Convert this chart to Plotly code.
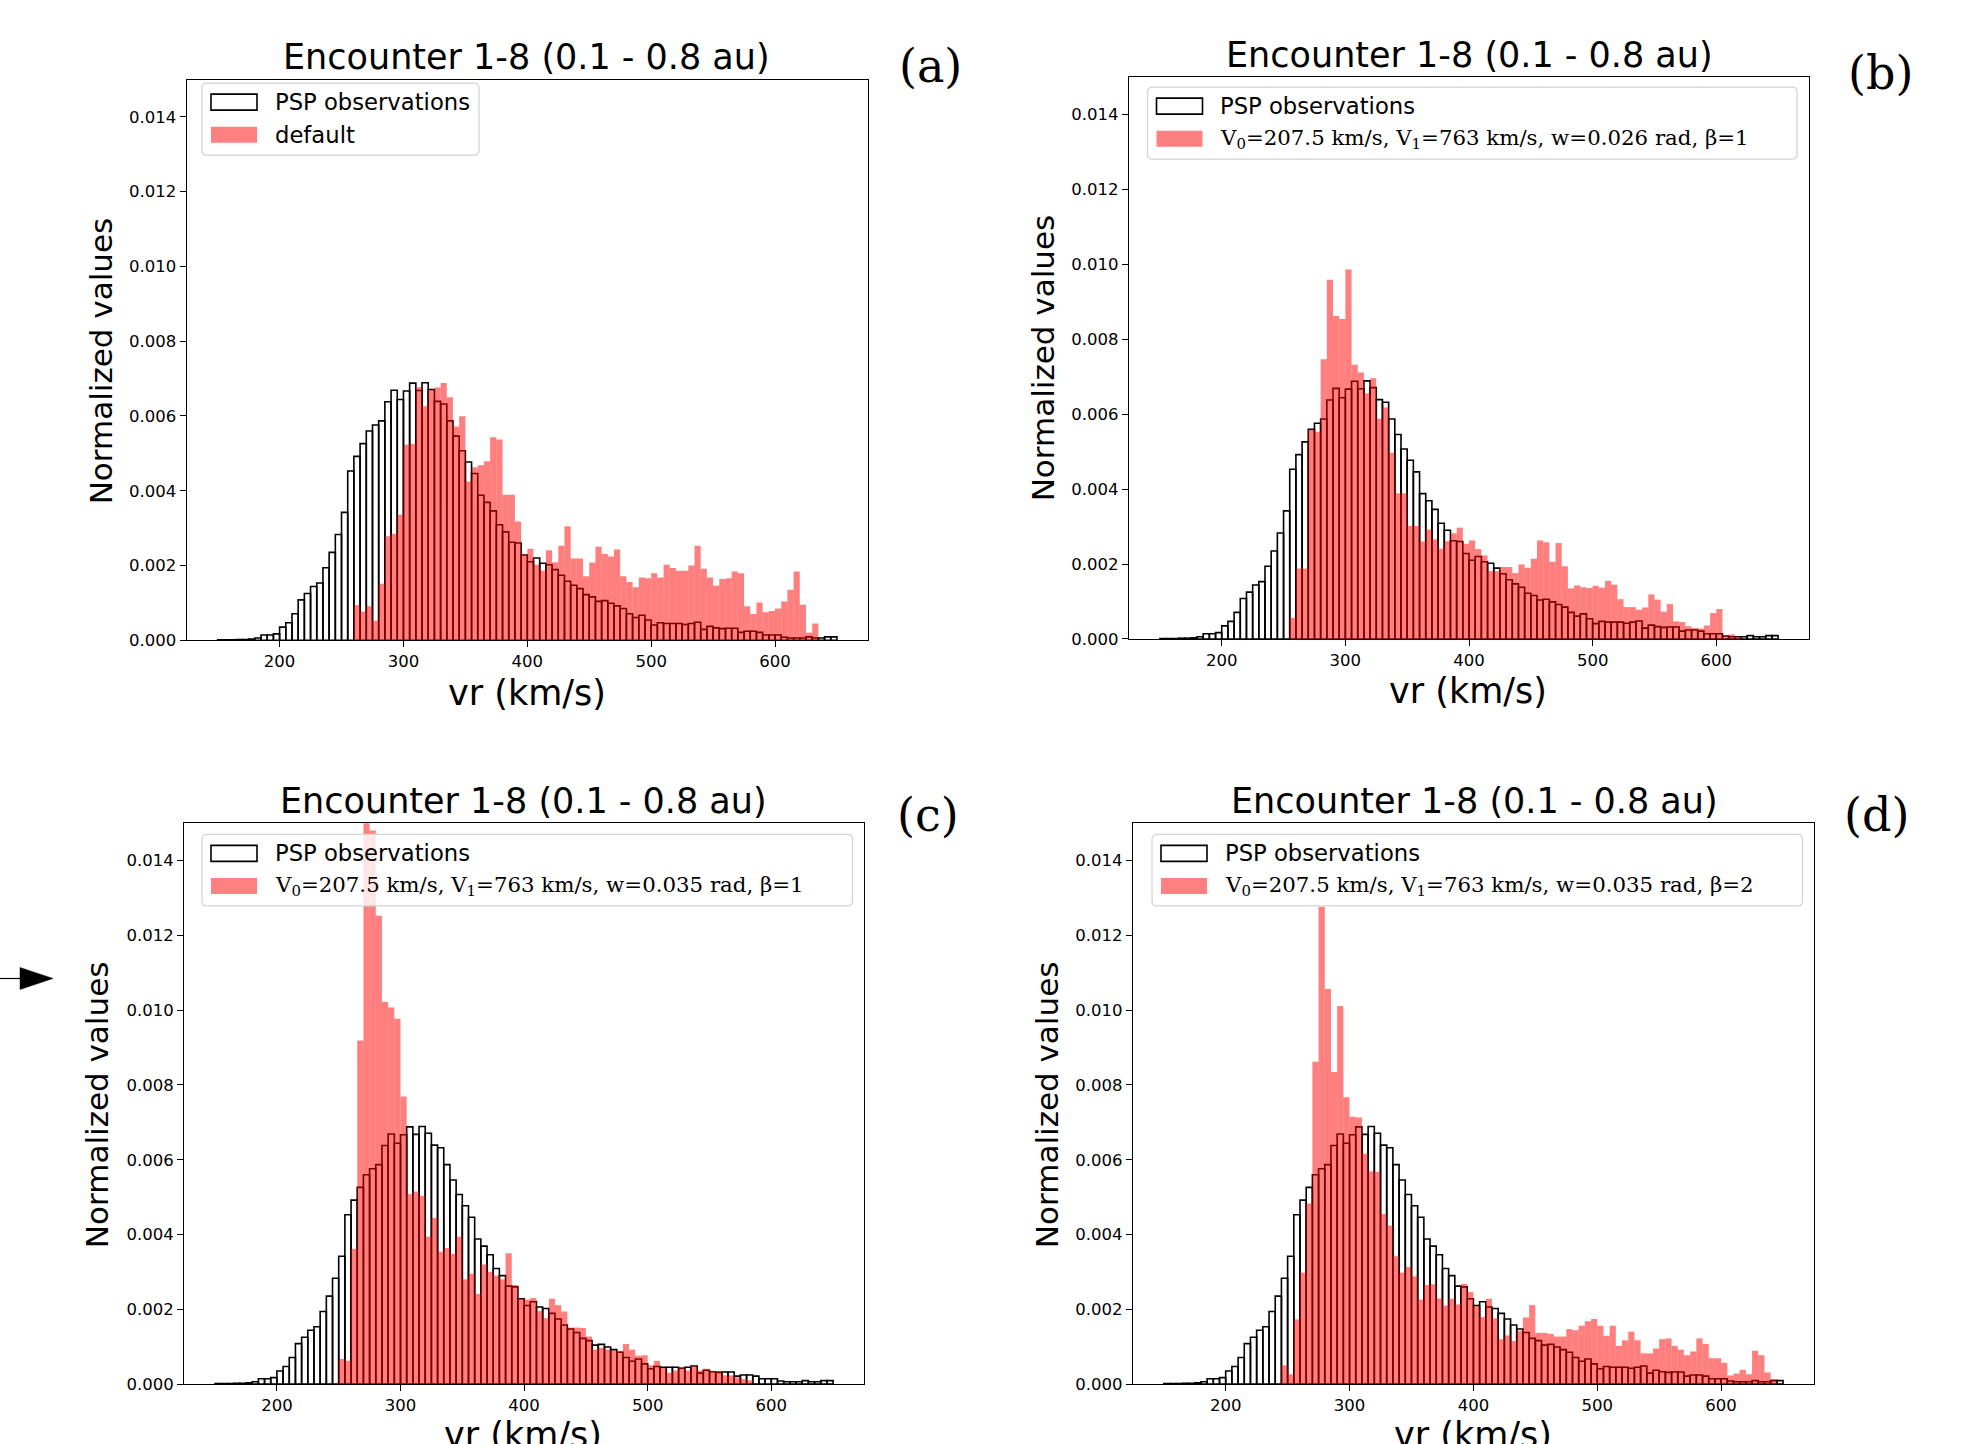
import plotly.graph_objects as go

# ---------------- data ----------------
BIN_WIDTH = 5
BIN_LEFT = list(range(150, 650, BIN_WIDTH))          # 100 bins, 150 ... 645 km/s
X_TICKS = [200, 300, 400, 500, 600]
Y_TICKS = [0.000, 0.002, 0.004, 0.006, 0.008, 0.010, 0.012, 0.014]

PSP = [
    0.00001, 0.00001, 0.00001, 0.00002, 0.00002, 0.00003, 0.00006, 0.00014, 0.00014, 0.00017,
    0.00035, 0.00047, 0.00071, 0.00108, 0.00125, 0.00144, 0.00153, 0.00194, 0.00235, 0.00283,
    0.00342, 0.00453, 0.00492, 0.00526, 0.00560, 0.00576, 0.00587, 0.00638, 0.00669, 0.00644,
    0.00667, 0.00688, 0.00668, 0.00689, 0.00671, 0.00639, 0.00632, 0.00587, 0.00546, 0.00507,
    0.00477, 0.00446, 0.00388, 0.00369, 0.00346, 0.00309, 0.00290, 0.00262, 0.00260, 0.00228,
    0.00210, 0.00220, 0.00206, 0.00202, 0.00189, 0.00174, 0.00158, 0.00147, 0.00138, 0.00122,
    0.00116, 0.00104, 0.00106, 0.00099, 0.00092, 0.00085, 0.00071, 0.00061, 0.00067, 0.00054,
    0.00041, 0.00047, 0.00045, 0.00045, 0.00045, 0.00042, 0.00045, 0.00048, 0.00029, 0.00037,
    0.00033, 0.00031, 0.00032, 0.00032, 0.00021, 0.00024, 0.00024, 0.00021, 0.00014, 0.00014,
    0.00014, 0.00008, 0.00006, 0.00006, 0.00006, 0.00009, 0.00006, 0.00006, 0.00009, 0.00009,
]

MODEL_A = [
    0, 0, 0, 0, 0, 0, 0, 0, 0, 0,
    0, 0, 0, 0, 0, 0, 0, 0, 0, 0,
    0, 0, 0.00094, 0.00077, 0.00091, 0.00052, 0.00151, 0.00278, 0.00285, 0.00336,
    0.00523, 0.00525, 0.00677, 0.00626, 0.00670, 0.00676, 0.00688, 0.00650, 0.00572, 0.00599,
    0.00425, 0.00463, 0.00468, 0.00479, 0.00543, 0.00537, 0.00389, 0.00389, 0.00318, 0.00229,
    0.00245, 0.00202, 0.00186, 0.00241, 0.00209, 0.00253, 0.00305, 0.00219, 0.00219, 0.00171,
    0.00208, 0.00250, 0.00231, 0.00224, 0.00243, 0.00171, 0.00156, 0.00142, 0.00168, 0.00166,
    0.00179, 0.00168, 0.00202, 0.00193, 0.00186, 0.00186, 0.00200, 0.00253, 0.00191, 0.00168,
    0.00146, 0.00164, 0.00166, 0.00184, 0.00179, 0.00091, 0.00070, 0.00101, 0.00075, 0.00078,
    0.00085, 0.00104, 0.00135, 0.00184, 0.00095, 0.00020, 0.00045, 0, 0, 0,
]

MODEL_B = [
    0, 0, 0, 0, 0, 0, 0, 0, 0, 0,
    0, 0, 0, 0, 0, 0, 0, 0, 0, 0,
    0, 0.00056, 0.00188, 0.00188, 0.00558, 0.00553, 0.00747, 0.00959, 0.00862, 0.00854,
    0.00986, 0.00732, 0.00711, 0.00656, 0.00696, 0.00588, 0.00618, 0.00497, 0.00389, 0.00389,
    0.00302, 0.00302, 0.00260, 0.00292, 0.00266, 0.00241, 0.00261, 0.00282, 0.00297, 0.00254,
    0.00263, 0.00240, 0.00223, 0.00181, 0.00181, 0.00192, 0.00192, 0.00176, 0.00199, 0.00190,
    0.00214, 0.00263, 0.00258, 0.00206, 0.00256, 0.00194, 0.00135, 0.00143, 0.00138, 0.00136,
    0.00142, 0.00137, 0.00155, 0.00145, 0.00106, 0.00085, 0.00085, 0.00078, 0.00084, 0.00119,
    0.00105, 0.00073, 0.00093, 0.00047, 0.00045, 0.00034, 0.00029, 0.00028, 0.00036, 0.00069,
    0.00080, 0.00009, 0.00012, 0.00006, 0, 0, 0, 0, 0, 0,
]

MODEL_C = [
    0, 0, 0, 0, 0, 0, 0, 0, 0, 0,
    0, 0, 0, 0, 0, 0, 0, 0, 0, 0,
    0.00067, 0.00062, 0.00362, 0.00919, 0.01580, 0.01481, 0.01253, 0.01022, 0.01007, 0.00977,
    0.00769, 0.00508, 0.00515, 0.00503, 0.00394, 0.00444, 0.00354, 0.00364, 0.00348, 0.00394,
    0.00280, 0.00295, 0.00241, 0.00320, 0.00300, 0.00290, 0.00280, 0.00350, 0.00265, 0.00228,
    0.00226, 0.00230, 0.00195, 0.00176, 0.00228, 0.00211, 0.00194, 0.00151, 0.00151, 0.00150,
    0.00127, 0.00092, 0.00097, 0.00092, 0.00089, 0.00089, 0.00107, 0.00092, 0.00076, 0.00077,
    0.00050, 0.00062, 0.00043, 0.00030, 0.00036, 0.00045, 0.00036, 0.00048, 0.00036, 0.00041,
    0.00035, 0.00035, 0.00023, 0.00023, 0.00018, 0.00013, 0.00010, 0, 0, 0,
    0, 0, 0, 0, 0, 0, 0, 0, 0, 0,
]

MODEL_D = [
    0, 0, 0, 0, 0, 0, 0, 0, 0, 0,
    0, 0, 0, 0, 0, 0, 0, 0, 0, 0.00050,
    0.00026, 0.00173, 0.00298, 0.00483, 0.00862, 0.01277, 0.01057, 0.00835, 0.01011, 0.00767,
    0.00715, 0.00713, 0.00616, 0.00569, 0.00567, 0.00455, 0.00424, 0.00342, 0.00298, 0.00313,
    0.00288, 0.00226, 0.00265, 0.00267, 0.00229, 0.00210, 0.00228, 0.00213, 0.00268, 0.00246,
    0.00208, 0.00179, 0.00228, 0.00176, 0.00120, 0.00130, 0.00115, 0.00142, 0.00178, 0.00211,
    0.00137, 0.00137, 0.00134, 0.00127, 0.00127, 0.00147, 0.00144, 0.00156, 0.00168, 0.00174,
    0.00156, 0.00129, 0.00156, 0.00102, 0.00117, 0.00140, 0.00117, 0.00082, 0.00082, 0.00095,
    0.00120, 0.00122, 0.00102, 0.00092, 0.00077, 0.00087, 0.00122, 0.00107, 0.00069, 0.00069,
    0.00057, 0.00023, 0.00028, 0.00038, 0.00026, 0.00089, 0.00077, 0.00031, 0.00013, 0,
]

TITLE = "Encounter 1-8 (0.1 - 0.8 au)"
PSP_NAME = "PSP observations"
MODEL_NAMES = [
    "default",
    "V<sub>0</sub>=207.5 km/s, V<sub>1</sub>=763 km/s, w=0.026 rad, β=1",
    "V<sub>0</sub>=207.5 km/s, V<sub>1</sub>=763 km/s, w=0.035 rad, β=1",
    "V<sub>0</sub>=207.5 km/s, V<sub>1</sub>=763 km/s, w=0.035 rad, β=2",
]
PANEL_LABELS = ["(a)", "(b)", "(c)", "(d)"]
X_LABEL = "vr (km/s)"
Y_LABEL = "Normalized values"

# ---------------- layout helpers ----------------
W, H = 1978, 1444
KY = 1.008            # small vertical correction measured against the reference
SANS = "DejaVu Sans"
SERIF = "DejaVu Serif"


def PX(x):
    return x / W


def PY(y):
    return 1 - (y * KY) / H


def rrect_path(x0, y0, x1, y1, r):
    return (f"M {PX(x0 + r)},{PY(y0)} L {PX(x1 - r)},{PY(y0)} Q {PX(x1)},{PY(y0)} {PX(x1)},{PY(y0 + r)} "
            f"L {PX(x1)},{PY(y1 - r)} Q {PX(x1)},{PY(y1)} {PX(x1 - r)},{PY(y1)} "
            f"L {PX(x0 + r)},{PY(y1)} Q {PX(x0)},{PY(y1)} {PX(x0)},{PY(y1 - r)} "
            f"L {PX(x0)},{PY(y0 + r)} Q {PX(x0)},{PY(y0)} {PX(x0 + r)},{PY(y0)} Z")


# panel geometry in pixels: axes box, title, label, legend
PANELS = [
    dict(ax=(186.7, 79.5, 867.9, 639.6), title=(526, 57), lab=(930, 66), xl=(527, 692), yl=(101, 361),
         leg=(202, 83, 479, 155), model=MODEL_A),
    dict(ax=(1129, 77, 1809, 638.3), title=(1469, 55), lab=(1880, 73), xl=(1468, 690), yl=(1043, 358),
         leg=(1147.5, 87, 1797, 159), model=MODEL_B),
    dict(ax=(184.2, 822.5, 864, 1382.6), title=(523, 800), lab=(928, 814), xl=(523, 1434), yl=(97, 1104),
         leg=(202, 833.5, 852.5, 905), model=MODEL_C),
    dict(ax=(1132.8, 822.5, 1814, 1382.6), title=(1474, 800), lab=(1876, 814), xl=(1473, 1434), yl=(1047, 1104),
         leg=(1152, 833.5, 1802.5, 905), model=MODEL_D),
]

centers = [b + BIN_WIDTH / 2 for b in BIN_LEFT]

fig = go.Figure()
shapes = []
annotations = []
layout_axes = {}

for i, p in enumerate(PANELS):
    n = "" if i == 0 else str(i + 1)
    xa, ya = "x" + n, "y" + n
    x0, y0, x1, y1 = p["ax"]

    fig.add_trace(go.Bar(
        x=centers, y=PSP, width=BIN_WIDTH, name=PSP_NAME,
        marker=dict(color="rgba(0,0,0,0)", line=dict(color="black", width=1.6)),
        xaxis=xa, yaxis=ya, showlegend=False, hoverinfo="x+y"))
    fig.add_trace(go.Bar(
        x=centers, y=p["model"], width=BIN_WIDTH, name=MODEL_NAMES[i],
        marker=dict(color="rgba(255,0,0,0.5)", line=dict(width=0)),
        xaxis=xa, yaxis=ya, showlegend=False, hoverinfo="x+y"))

    common = dict(showline=True, linecolor="black", linewidth=1.2, mirror=True,
                  ticks="outside", ticklen=6, tickwidth=1.2, tickcolor="black",
                  showgrid=False, zeroline=False,
                  tickfont=dict(family=SANS, size=16.5, color="black"))
    layout_axes["xaxis" + n] = dict(domain=[PX(x0), PX(x1)], range=[125, 675], anchor=ya,
                                    tickvals=X_TICKS, **common)
    layout_axes["yaxis" + n] = dict(domain=[PY(y1), PY(y0)], range=[0, 0.015], anchor=xa,
                                    tickvals=Y_TICKS, tickformat=".3f", **common)

    # titles and labels
    annotations.append(dict(text=TITLE, x=PX(p["title"][0]), y=PY(p["title"][1]), xref="paper", yref="paper",
                            xanchor="center", yanchor="middle", showarrow=False,
                            font=dict(family=SANS, size=35, color="black")))
    annotations.append(dict(text=PANEL_LABELS[i], x=PX(p["lab"][0]), y=PY(p["lab"][1]), xref="paper", yref="paper",
                            xanchor="center", yanchor="middle", showarrow=False,
                            font=dict(family=SERIF, size=46, color="black")))
    annotations.append(dict(text=X_LABEL, x=PX(p["xl"][0]), y=PY(p["xl"][1]), xref="paper", yref="paper",
                            xanchor="center", yanchor="middle", showarrow=False,
                            font=dict(family=SANS, size=35, color="black")))
    annotations.append(dict(text=Y_LABEL, x=PX(p["yl"][0]), y=PY(p["yl"][1]), xref="paper", yref="paper",
                            xanchor="center", yanchor="middle", showarrow=False, textangle=-90,
                            font=dict(family=SANS, size=31, color="black")))

    # legend (drawn)
    lx0, ly0, lx1, ly1 = p["leg"]
    shapes.append(dict(type="path", xref="paper", yref="paper", path=rrect_path(lx0, ly0, lx1, ly1, 5),
                       fillcolor="rgba(255,255,255,0.8)", line=dict(color="#d4d4d4", width=1.3), layer="above"))
    sw0, sw1 = lx0 + 9, lx0 + 55
    r1, r2 = ly0 + 19, ly0 + 51.5
    shapes.append(dict(type="rect", xref="paper", yref="paper", x0=PX(sw0), x1=PX(sw1), y0=PY(r1 + 8), y1=PY(r1 - 8),
                       fillcolor="white", line=dict(color="black", width=1.6), layer="above"))
    shapes.append(dict(type="rect", xref="paper", yref="paper", x0=PX(sw0), x1=PX(sw1), y0=PY(r2 + 8), y1=PY(r2 - 8),
                       fillcolor="#ff8080", line=dict(width=0), layer="above"))
    tx = lx0 + 70.5
    annotations.append(dict(text=PSP_NAME, x=PX(tx), y=PY(r1), xref="paper", yref="paper",
                            xanchor="left", yanchor="middle", showarrow=False,
                            font=dict(family=SANS, size=22.7, color="black")))
    annotations.append(dict(text=MODEL_NAMES[i], x=PX(tx), y=PY(r2), xref="paper", yref="paper",
                            xanchor="left", yanchor="middle", showarrow=False,
                            font=dict(family=SANS if i == 0 else SERIF, size=22.7 if i == 0 else 21.3,
                                      color="black")))

# arrow at the left of panel (c)
shapes.append(dict(type="line", xref="paper", yref="paper", x0=PX(0), x1=PX(22), y0=PY(977.5), y1=PY(977.5),
                   line=dict(color="black", width=1.2)))
shapes.append(dict(type="path", xref="paper", yref="paper",
                   path=f"M {PX(20)},{PY(966.5)} L {PX(53)},{PY(977.5)} L {PX(20)},{PY(988.5)} Z",
                   fillcolor="black", line=dict(color="black", width=0.5)))

fig.update_layout(
    width=W, height=H, margin=dict(l=0, r=0, t=0, b=0),
    paper_bgcolor="white", plot_bgcolor="white",
    barmode="overlay", showlegend=False,
    shapes=shapes, annotations=annotations,
    **layout_axes,
)

fig.write_html("out.html")
